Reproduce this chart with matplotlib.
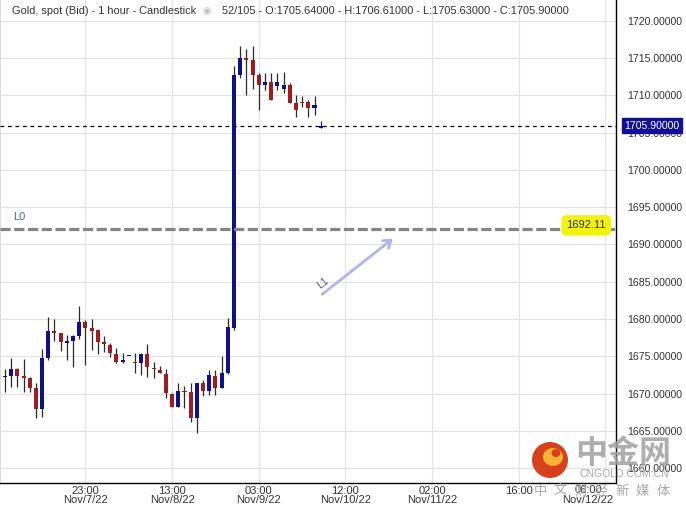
import matplotlib
matplotlib.use("Agg")
import matplotlib.pyplot as plt
from matplotlib.patches import Ellipse, FancyArrowPatch
import matplotlib.transforms as mtransforms

plt.rcParams['font.family'] = ['Liberation Sans', 'DejaVu Sans']

# hourly candles (O, H, L, C)
opens = [1672.20, 1672.41, 1673.27, 1672.37, 1672.06, 1670.72, 1667.95, 1674.75, 1678.40, 1678.10,
         1676.84, 1677.10, 1677.77, 1679.57, 1678.77, 1678.54, 1676.93, 1676.53, 1675.32, 1674.29,
         1675.05, 1674.25, 1674.07, 1675.32, 1673.45, 1673.18, 1672.64, 1669.92, 1668.26, 1670.40,
         1670.23, 1666.78, 1671.39, 1670.36, 1672.37, 1670.80, 1672.73, 1678.77, 1712.72, 1714.96,
         1714.73, 1712.72, 1711.38, 1711.82, 1711.29, 1710.84, 1711.38, 1709.01, 1709.14, 1709.14,
         1708.34, 1705.64]
highs = [1673.27, 1674.75, 1673.40, 1674.65, 1672.28, 1671.43, 1676.00, 1680.32, 1680.01, 1678.18,
         1677.87, 1677.87, 1681.76, 1679.88, 1679.97, 1678.63, 1677.73, 1676.76, 1676.09, 1675.42,
         1675.05, 1675.50, 1675.50, 1676.66, 1674.29, 1673.71, 1673.27, 1670.05, 1671.39, 1671.03,
         1671.47, 1671.47, 1671.84, 1673.18, 1673.18, 1675.05, 1680.11, 1713.93, 1716.61, 1716.17,
         1716.61, 1712.95, 1712.95, 1712.95, 1712.95, 1713.08, 1711.60, 1710.04, 1709.91, 1709.37,
         1709.91, 1706.61]
lows = [1670.27, 1670.94, 1670.94, 1670.27, 1670.27, 1666.78, 1666.92, 1674.52, 1677.10, 1675.76,
        1674.52, 1673.58, 1677.29, 1673.85, 1675.86, 1675.28, 1675.63, 1674.96, 1674.16, 1674.07,
        1675.05, 1672.73, 1672.51, 1672.28, 1672.06, 1672.73, 1669.38, 1668.18, 1668.18, 1668.04,
        1666.25, 1664.69, 1669.69, 1669.83, 1669.83, 1670.72, 1672.64, 1678.54, 1712.28, 1710.04,
        1710.80, 1708.03, 1710.71, 1709.37, 1710.71, 1710.27, 1708.93, 1707.05, 1708.47, 1707.13,
        1707.36, 1705.63]
closes = [1672.35, 1673.27, 1672.41, 1672.10, 1670.80, 1667.95, 1674.75, 1678.40, 1678.18, 1676.97,
          1677.06, 1677.73, 1679.57, 1678.85, 1678.45, 1676.89, 1676.70, 1675.42, 1674.29, 1674.52,
          1675.05, 1674.07, 1675.32, 1673.54, 1673.27, 1672.82, 1670.05, 1668.26, 1670.36, 1670.27,
          1666.78, 1671.39, 1670.40, 1672.51, 1670.80, 1672.73, 1678.90, 1712.72, 1714.96, 1714.73,
          1712.72, 1711.38, 1711.74, 1709.37, 1711.74, 1711.38, 1709.01, 1708.03, 1708.93, 1708.34,
          1708.66, 1705.90]

tick_pos = [13, 27, 41, 55, 69, 83]
tick_labels = ["23:00\nNov/7/22", "13:00\nNov/8/22", "03:00\nNov/9/22",
               "12:00\nNov/10/22", "02:00\nNov/11/22", "16:00\n"]
y_ticks = [1660, 1665, 1670, 1675, 1680, 1685, 1690, 1695, 1700, 1705, 1710, 1715, 1720]

last_price = 1705.90
level_l0 = 1692.11
l1_start = (50.9, 1683.1)
l1_end = (63.0, 1691.0)

up_col = "#10108c"
down_col = "#a11b1f"

fig = plt.figure(figsize=(6.86, 5.07), dpi=100)
ax = fig.add_axes([0, 24 / 507, 616 / 686, 483 / 507])

ax.set_xlim(-0.8, 98.7)
ax.set_ylim(1658.03, 1722.77)

# grid
ax.set_yticks(y_ticks)
ax.set_yticklabels([f"{v:.5f}" for v in y_ticks])
ax.set_xticks(tick_pos)
ax.set_xticklabels(tick_labels)
ax.grid(True, color="#e3e3e3", lw=0.8)
ax.axvline(97, color="#e3e3e3", lw=0.8)
ax.set_axisbelow(True)

ax.yaxis.tick_right()
ax.tick_params(axis="y", length=0, pad=8, labelsize=7.6, labelcolor="#333333")
ax.tick_params(axis="x", length=0, pad=2, labelsize=8, labelcolor="#333333")
for lab in ax.get_xticklabels():
    lab.set_linespacing(0.95)

ax.spines["top"].set_visible(False)
ax.spines["left"].set_color("#dddddd")
ax.spines["right"].set_color("black")
ax.spines["bottom"].set_color("black")
ax.spines["right"].set_linewidth(1.0)
ax.spines["bottom"].set_linewidth(1.0)

ax.text(94.2, -0.004, "06:00\nNov/12/22", transform=mtransforms.blended_transform_factory(ax.transData, ax.transAxes),
        ha="center", va="top", fontsize=8, color="#333333", linespacing=0.95)

# candles
idx = list(range(len(opens)))
ax.vlines(idx, lows, highs, color="#2a2a2a", lw=0.9, zorder=2)
bottoms = [min(o, c) for o, c in zip(opens, closes)]
heights = [max(abs(c - o), 0.13) for o, c in zip(opens, closes)]
colors = [up_col if c >= o else down_col for o, c in zip(opens, closes)]
ax.bar(idx, heights, bottom=bottoms, width=0.65, color=colors, zorder=3)

# current price line + tag
ax.axhline(last_price, color="black", lw=0.9, ls=(0, (3, 3)), zorder=4)
ax.text(1.058, last_price, f"{last_price:.5f}", transform=mtransforms.blended_transform_factory(ax.transAxes, ax.transData),
        ha="center", va="center", fontsize=7.6, color="white", clip_on=False, zorder=10,
        bbox=dict(boxstyle="square,pad=0.25", fc="#0f0f9a", ec="#0f0f9a"))

# L0 horizontal level
ax.axhline(level_l0, color="#858585", lw=2.3, ls=(0, (3.2, 1.1)), zorder=4)
ax.text(1.3, level_l0 + 1.6, "L0", fontsize=8, color="#4f6f99", va="center", ha="left")
ax.text(93.9, level_l0 + 0.45, f"{level_l0:.2f}", fontsize=8, color="#333333", ha="center", va="center", zorder=6,
        bbox=dict(boxstyle="round,pad=0.4", fc="#f2f20a", ec="#f2f20a"))

# L1 trend arrow
arr = FancyArrowPatch(l1_start, l1_end, arrowstyle="->,head_length=5,head_width=3.5",
                      color="#b3b3ee", lw=2.0, zorder=5)
ax.add_patch(arr)
ax.text(51.4, 1684.84, "L1", rotation=38, fontsize=7.5, color="#555555", ha="center", va="center")

# header
fig.text(12 / 686, 1 - 11 / 507, "Gold, spot (Bid) - 1 hour - Candlestick", fontsize=7.9, color="#333333", va="center")
fig.text(207 / 686, 1 - 11 / 507, "◉", fontsize=7, color="#c0c0c0", va="center", ha="center")
fig.text(222 / 686, 1 - 11 / 507, "52/105 - O:1705.64000 - H:1706.61000 - L:1705.63000 - C:1705.90000",
         fontsize=7.9, color="#333333", va="center")

# watermark
logo = Ellipse((550 / 686, 1 - 460 / 507), 36 / 686, 36 / 507, transform=fig.transFigure,
               fc="#d8401c", ec="none", zorder=20)
fig.add_artist(logo)
inner = Ellipse((553 / 686, 1 - 457 / 507), 20 / 686, 18 / 507, transform=fig.transFigure,
                fc="#f6b232", ec="none", zorder=21)
fig.add_artist(inner)
hole = Ellipse((556 / 686, 1 - 453 / 507), 9 / 686, 8 / 507, transform=fig.transFigure,
               fc="#d8401c", ec="none", zorder=22)
fig.add_artist(hole)
fig.text(623 / 686, 1 - 454 / 507, "中金网", fontsize=23, fontweight="bold", color="#a0a0a0", alpha=0.85,
         ha="center", va="center", family=["Noto Sans CJK SC", "DejaVu Sans"], zorder=20)
fig.text(624 / 686, 1 - 474 / 507, "CNGOLD.COM.CN", fontsize=7.5, color="#a8a8a8",
         ha="center", va="center", zorder=20)
for k, ch in enumerate("中文财经新媒体"):
    fig.text((540 + 20.5 * k) / 686, 1 - 491 / 507, ch, fontsize=9.5, color="#a8a8a8", ha="center", va="center",
             family=["Noto Sans CJK SC", "DejaVu Sans"], zorder=20)

fig.savefig("out.png", dpi=100)
